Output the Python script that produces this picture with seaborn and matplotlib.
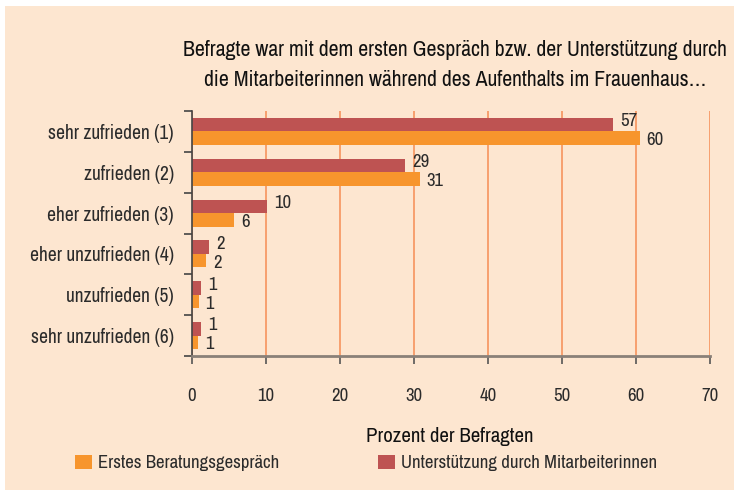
import pandas as pd
import matplotlib
matplotlib.use('Agg')
import matplotlib.pyplot as plt
import seaborn as sns
from matplotlib.patches import Rectangle, Patch

# data
categories = ['sehr zufrieden (1)', 'zufrieden (2)', 'eher zufrieden (3)',
              'eher unzufrieden (4)', 'unzufrieden (5)', 'sehr unzufrieden (6)']
unterstuetzung = [56.9, 28.8, 10.1, 2.3, 1.2, 1.2]
erstgespraech = [60.5, 30.8, 5.7, 1.9, 0.9, 0.8]
labels_unt = ['57', '29', '10', '2', '1', '1']
labels_erst = ['60', '31', '6', '2', '1', '1']
series = ['Unterstützung durch Mitarbeiterinnen', 'Erstes Beratungsgespräch']
xticks = [0, 10, 20, 30, 40, 50, 60, 70]

bg = '#FDE6D0'
red = '#BE5352'
orange = '#F7952D'
grid_col = '#F79A66'
txt = '#2b2b2b'

sns.set_style('white')
# condensed look like the original
plt.rcParams['font.family'] = ['Archivo Narrow', 'Liberation Sans Narrow', 'DejaVu Sans']

df = pd.DataFrame({
    'Kategorie': categories * 2,
    'Prozent': unterstuetzung + erstgespraech,
    'Serie': [series[0]] * len(categories) + [series[1]] * len(categories),
})

fig = plt.figure(figsize=(7.34, 4.96), dpi=100, facecolor='white')
fig.patches.append(Rectangle((5 / 734, 6 / 496), 1 - 5 / 734, 484 / 496,
                             transform=fig.transFigure, facecolor=bg,
                             edgecolor='none', zorder=-5))
ax = fig.add_axes([192 / 734, 1 - 356 / 496, 518 / 734, 245 / 496])
ax.set_facecolor(bg)

sns.barplot(data=df, y='Kategorie', x='Prozent', hue='Serie', hue_order=series,
            palette=[red, orange], orient='h', width=0.66, ax=ax, legend=False,
            saturation=1, linewidth=0)

# value labels, red ones a bit higher, orange ones a bit lower
for t in ax.bar_label(ax.containers[0], labels=labels_unt, padding=5,
                      fontsize=13.5, color=txt):
    t.xyann = (5, 2.5)
for t in ax.bar_label(ax.containers[1], labels=labels_erst, padding=5,
                      fontsize=13.5, color=txt):
    t.xyann = (5, -1.5)

ax.set_xlim(0, 70)
ax.set_ylim(len(categories) - 0.5, -0.5)
ax.set_xticks(xticks)
ax.xaxis.grid(True, color=grid_col, lw=1.3)
ax.yaxis.grid(False)
ax.set_axisbelow(True)

# y ticks between the categories
ax.set_yticks([i + 0.5 for i in range(-1, len(categories))], minor=True)
ax.tick_params(axis='y', which='major', length=0, pad=13, labelsize=14,
               labelcolor=txt)
ax.tick_params(axis='y', which='minor', length=6, width=1.2, color='#444444',
               left=True)
ax.tick_params(axis='x', length=6, width=1.2, color='#555555', pad=17,
               labelsize=13.5, labelcolor=txt, bottom=True)
ax.set_xlabel('')
ax.set_ylabel('')

for s in ['top', 'right']:
    ax.spines[s].set_visible(False)
ax.spines['left'].set_color('#444444')
ax.spines['left'].set_linewidth(1.2)
ax.spines['bottom'].set_color('#8a8078')
ax.spines['bottom'].set_linewidth(2)

fig.text(455 / 734, 1 - 65 / 496,
         'Befragte war mit dem ersten Gespräch bzw. der Unterstützung durch\n'
         'die Mitarbeiterinnen während des Aufenthalts im Frauenhaus…',
         ha='center', va='center', fontsize=15.7, linespacing=1.6, color='#111111')
fig.text(450 / 734, 1 - 437 / 496, 'Prozent der Befragten', ha='center',
         va='center', fontsize=15, color='#111111')

handles = [Patch(facecolor=orange, edgecolor='none'),
           Patch(facecolor=red, edgecolor='none')]
fig.legend(handles, [series[1], series[0]], loc='center left',
           bbox_to_anchor=(75 / 734, 1 - 463 / 496), ncol=2, frameon=False,
           handlelength=0.9, handleheight=0.85, handletextpad=0.3,
           columnspacing=5.3, borderpad=0, borderaxespad=0, fontsize=13.5,
           labelcolor=txt)

fig.savefig('out.png', dpi=100, facecolor='white')
